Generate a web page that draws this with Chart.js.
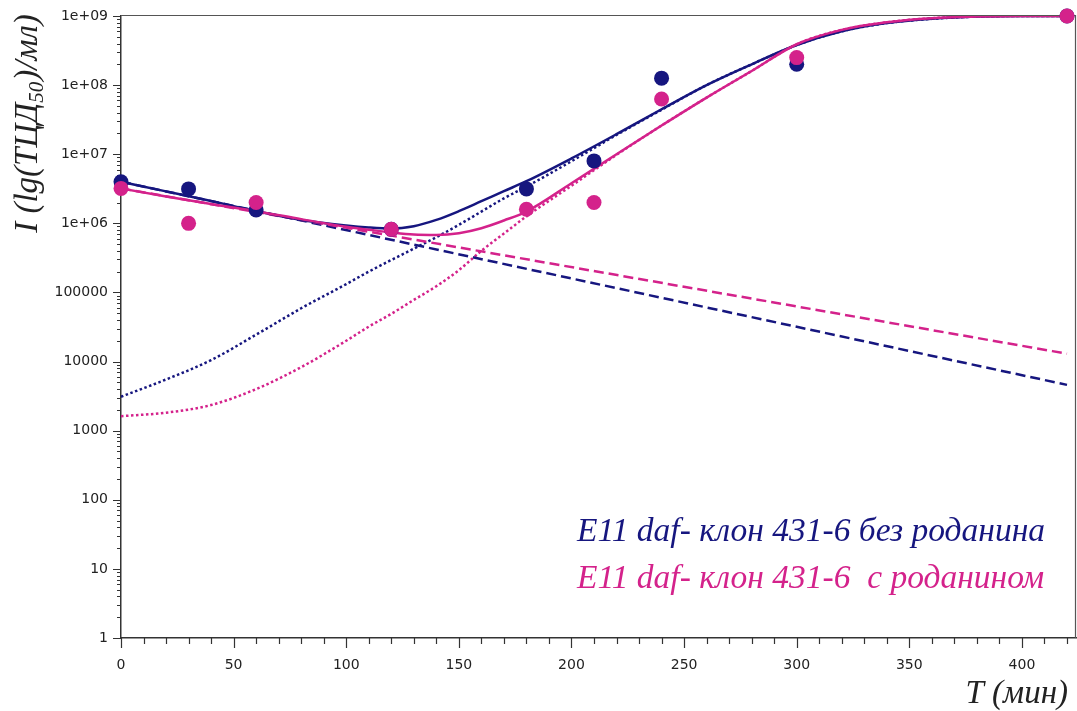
<!DOCTYPE html>
<html>
<head>
<meta charset="utf-8">
<script src="https://cdn.jsdelivr.net/npm/chart.js@4.4.2/dist/chart.umd.min.js"></script>
<style>
  html, body { margin: 0; padding: 0; background: #fff; }
  #chart { display: block; }
</style>
</head>
<body>
<canvas id="chart" width="1077" height="711"></canvas>
<script>
// Measured points, time in minutes
const pointTimes = [0, 30, 60, 120, 180, 210, 240, 300, 420];
const pointsNoRhodanine = [4.0e6, 3.15e6, 1.56e6, 8.2e5, 3.15e6, 8.0e6, 1.26e8, 2.0e8, 1.0e9];
const pointsRhodanine = [3.2e6, 1.0e6, 2.0e6, 8.2e5, 1.6e6, 2.0e6, 6.3e7, 2.5e8, 1.0e9];

// Model curves sampled along the time axis
const curveTimes = [0, 20, 40, 60, 80, 100, 110, 120, 130, 140, 150, 160, 170,
  180, 200, 220, 240, 260, 280, 300, 320, 340, 360, 380, 400, 420];
const fitNoRhodanine = [4.0e6, 2.9e6, 2.1e6, 1.5e6, 1.12e6, 9.3e5, 8.7e5, 8.4e5,
  9.1e5, 1.12e6, 1.5e6, 2.09e6, 2.92e6, 4.07e6, 8.7e6, 1.95e7, 4.47e7, 1.0e8, 2.0e8,
  3.8e8, 6.0e8, 7.9e8, 9.1e8, 9.8e8, 1.0e9, 1.0e9];
const growthNoRhodanine = [3.1e3, 5.5e3, 1.05e4, 2.45e4, 5.9e4, 1.32e5, 2.0e5,
  2.95e5, 4.3e5, 6.3e5, 9.5e5, 1.48e6, 2.3e6, 3.4e6, 7.9e6, 1.9e7, 4.4e7, 1.0e8,
  2.0e8, 3.8e8, 6.0e8, 7.9e8, 9.1e8, 9.8e8, 1.0e9, 1.0e9];
const fitRhodanine = [3.2e6, 2.45e6, 1.9e6, 1.5e6, 1.15e6, 8.9e5, 8.1e5, 7.4e5,
  6.9e5, 6.8e5, 7.2e5, 8.5e5, 1.1e6, 1.48e6, 3.8e6, 1.0e7, 2.6e7, 6.6e7, 1.6e8,
  3.9e8, 6.3e8, 8.1e8, 9.3e8, 9.8e8, 1.0e9, 1.0e9];
const growthRhodanine = [1.62e3, 1.82e3, 2.35e3, 4.0e3, 8.3e3, 2.0e4, 3.2e4, 4.9e4,
  7.8e4, 1.23e5, 2.1e5, 4.0e5, 7.1e5, 1.26e6, 3.5e6, 9.8e6, 2.6e7, 6.6e7, 1.6e8,
  3.9e8, 6.3e8, 8.1e8, 9.3e8, 9.8e8, 1.0e9, 1.0e9];

// Decay components (straight on the log axis)
const decayTimes = [0, 420];
const decayNoRhodanine = [4.0e6, 4.6e3];
const decayRhodanine = [3.2e6, 1.3e4];

const seriesNames = ['E11 daf- клон 431-6 без роданина', 'E11 daf- клон 431-6  с роданином'];
const yDecadeLabels = ['1', '10', '100', '1000', '10000', '100000', '1e+06', '1e+07', '1e+08', '1e+09'];
const xTickLabels = [0, 50, 100, 150, 200, 250, 300, 350, 400];

const BLUE = '#16167f';
const PINK = '#d4228b';

const toXY = (xs, ys) => xs.map((x, i) => ({x: x, y: ys[i]}));

const isDecade = v => {
  const e = Math.log10(v);
  return Math.abs(e - Math.round(e)) < 1e-9;
};

function lineSet(times, values, color, dash) {
  return {
    type: 'line',
    data: toXY(times, values),
    borderColor: color,
    borderWidth: 2.5,
    borderDash: dash,
    pointRadius: 0,
    cubicInterpolationMode: 'monotone',
    fill: false
  };
}

function pointSet(values, color) {
  return {
    type: 'scatter',
    data: toXY(pointTimes, values),
    backgroundColor: color,
    borderWidth: 0,
    pointRadius: 7.5,
    clip: false
  };
}

// tick marks, frame, axis titles and the text legend
const decor = {
  id: 'decor',
  beforeDatasetsDraw(chart) {
    const {ctx, chartArea: area, scales: {x, y}} = chart;
    ctx.save();
    ctx.strokeStyle = '#333';
    ctx.lineWidth = 1.2;
    ctx.beginPath();
    y.ticks.forEach(t => {
      const py = Math.round(y.getPixelForValue(t.value)) + 0.5;
      const len = isDecade(t.value) ? 8 : 4;
      ctx.moveTo(area.left - len, py);
      ctx.lineTo(area.left, py);
    });
    x.ticks.forEach(t => {
      const px = Math.round(x.getPixelForValue(t.value)) + 0.5;
      const len = t.value % 50 === 0 ? 10 : 6;
      ctx.moveTo(px, area.bottom);
      ctx.lineTo(px, area.bottom + len);
    });
    ctx.stroke();

    ctx.strokeStyle = '#555';
    ctx.lineWidth = 1.2;
    ctx.beginPath();
    ctx.moveTo(area.left, area.top - 0.5);
    ctx.lineTo(area.right - 0.5, area.top - 0.5);
    ctx.lineTo(area.right - 0.5, area.bottom);
    ctx.stroke();
    ctx.restore();
  },
  afterDraw(chart) {
    const {ctx} = chart;
    ctx.save();
    ctx.fillStyle = '#222';
    ctx.textBaseline = 'alphabetic';

    // y title with subscript
    const big = 'italic 33px "Liberation Serif"';
    const small = 'italic 21px "Liberation Serif"';
    const parts = [['I (lg(ТЦД', big, 0], ['50', small, 6], [')/мл)', big, 0]];
    let total = 0;
    parts.forEach(p => { ctx.font = p[1]; total += ctx.measureText(p[0]).width; });
    ctx.translate(37, 124);
    ctx.rotate(-Math.PI / 2);
    let cx = -total / 2;
    parts.forEach(p => {
      ctx.font = p[1];
      ctx.fillText(p[0], cx, p[2]);
      cx += ctx.measureText(p[0]).width + (p[0] === '50' ? 1 : 0);
    });
    ctx.setTransform(1, 0, 0, 1, 0, 0);

    // x title
    ctx.font = 'italic 33px "Liberation Serif"';
    ctx.textAlign = 'right';
    ctx.fillText('T (мин)', 1068, 703);

    // legend text
    ctx.textAlign = 'left';
    ctx.font = 'italic 33.5px "Liberation Serif"';
    ctx.fillStyle = BLUE;
    ctx.fillText(seriesNames[0], 577, 541);
    ctx.fillStyle = PINK;
    ctx.fillText(seriesNames[1], 577, 588);
    ctx.restore();
  }
};

new Chart(document.getElementById('chart'), {
  type: 'scatter',
  data: {
    datasets: [
      pointSet(pointsRhodanine, PINK),
      pointSet(pointsNoRhodanine, BLUE),
      lineSet(curveTimes, fitRhodanine, PINK, []),
      lineSet(curveTimes, fitNoRhodanine, BLUE, []),
      lineSet(decayTimes, decayRhodanine, PINK, [10, 5]),
      lineSet(decayTimes, decayNoRhodanine, BLUE, [10, 5]),
      lineSet(curveTimes, growthRhodanine, PINK, [2.5, 2.5]),
      lineSet(curveTimes, growthNoRhodanine, BLUE, [2.5, 2.5])
    ]
  },
  options: {
    responsive: false,
    animation: false,
    devicePixelRatio: 1,
    layout: {autoPadding: false, padding: {top: 16, right: 1, left: 0, bottom: 0}},
    plugins: {legend: {display: false}, tooltip: {enabled: false}},
    scales: {
      x: {
        type: 'linear',
        min: 0,
        max: 424,
        afterBuildTicks: s => {
          const ticks = [];
          for (let v = 0; v <= 420; v += 10) ticks.push({value: v});
          s.ticks = ticks;
        },
        afterFit: s => {
          s.height = 73;
          s.paddingLeft = 0;
          s.paddingRight = 0;
        },
        grid: {display: false, drawTicks: true, tickLength: 10},
        border: {display: true, color: '#333', width: 1.5},
        ticks: {
          autoSkip: false,
          maxRotation: 0,
          padding: 9,
          color: '#222',
          font: {family: 'DejaVu Sans', size: 14},
          callback: v => xTickLabels.includes(v) ? String(v) : ''
        }
      },
      y: {
        type: 'logarithmic',
        min: 1,
        max: 1e9,
        afterBuildTicks: s => {
          const ticks = [];
          for (let e = 0; e < 9; e++) {
            for (let m = 1; m <= 9; m++) ticks.push({value: m * Math.pow(10, e)});
          }
          ticks.push({value: 1e9});
          s.ticks = ticks;
        },
        afterFit: s => {
          s.width = 121;
          s.paddingTop = 0;
          s.paddingBottom = 0;
        },
        grid: {display: false, drawTicks: true, tickLength: 8},
        border: {display: true, color: '#333', width: 1.5},
        ticks: {
          autoSkip: false,
          padding: 5,
          color: '#222',
          font: {family: 'DejaVu Sans', size: 14},
          callback: v => isDecade(v) ? yDecadeLabels[Math.round(Math.log10(v))] : ''
        }
      }
    }
  },
  plugins: [decor]
});
</script>
</body>
</html>
